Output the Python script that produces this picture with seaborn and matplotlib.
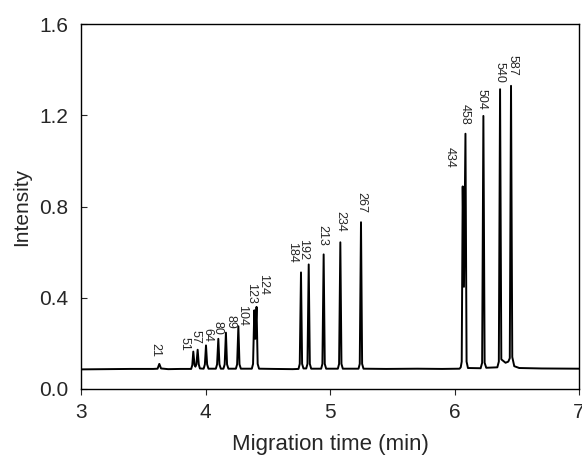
import matplotlib
matplotlib.use("Agg")
import matplotlib.pyplot as plt
import pandas as pd
import seaborn as sns

# electropherogram trace (min, intensity)
trace_time = [
    3.00, 3.20, 3.40, 3.58,
    3.615, 3.629, 3.643, 3.70, 3.80, 3.88,
    3.885, 3.894, 3.902, 3.912, 3.919, 3.927, 3.937, 3.946, 3.955,
    3.985, 3.995, 4.004, 4.013, 4.024,
    4.083, 4.093, 4.103, 4.112, 4.123,
    4.144, 4.154, 4.164, 4.173, 4.184,
    4.244, 4.254, 4.264, 4.273, 4.284,
    4.372, 4.382, 4.392, 4.400, 4.410, 4.419, 4.430,
    4.550, 4.700,
    4.747, 4.757, 4.767, 4.776, 4.787, 4.798,
    4.809, 4.819, 4.829, 4.838, 4.849,
    4.929, 4.939, 4.949, 4.958, 4.969,
    5.063, 5.073, 5.083, 5.092, 5.103,
    5.229, 5.239, 5.249, 5.258, 5.269,
    5.450, 5.700, 5.900, 6.040,
    6.050, 6.058, 6.066, 6.076, 6.088, 6.097, 6.108,
    6.210, 6.222, 6.232, 6.242, 6.255,
    6.344, 6.356, 6.366, 6.376, 6.410,
    6.432, 6.444, 6.454, 6.464, 6.480, 6.520, 6.700, 7.000,
]
trace_intensity = [
    0.086, 0.087, 0.088, 0.088,
    0.089, 0.110, 0.090, 0.087, 0.088, 0.088,
    0.088, 0.105, 0.164, 0.105, 0.098, 0.108, 0.172, 0.108, 0.090,
    0.089, 0.108, 0.191, 0.108, 0.089,
    0.089, 0.108, 0.220, 0.108, 0.089,
    0.089, 0.108, 0.247, 0.108, 0.089,
    0.089, 0.108, 0.275, 0.108, 0.089,
    0.089, 0.110, 0.345, 0.220, 0.360, 0.110, 0.089,
    0.088, 0.087,
    0.088, 0.110, 0.511, 0.110, 0.090, 0.090,
    0.090, 0.110, 0.546, 0.110, 0.089,
    0.089, 0.110, 0.590, 0.110, 0.089,
    0.089, 0.110, 0.643, 0.110, 0.089,
    0.089, 0.110, 0.731, 0.110, 0.089,
    0.088, 0.089, 0.088, 0.089,
    0.095, 0.120, 0.888, 0.448, 1.119, 0.120, 0.092,
    0.091, 0.115, 1.197, 0.115, 0.093,
    0.095, 0.120, 1.314, 0.130, 0.115,
    0.120, 0.135, 1.329, 0.140, 0.100, 0.092, 0.090, 0.089,
]

# peak annotations (fragment size, bp)
peak_labels = ["21", "51", "57", "64", "80", "89", "104", "123", "124",
               "184", "192", "213", "234", "267",
               "434", "458", "504", "540", "587"]
label_x = [3.594, 3.830, 3.918, 4.016, 4.100, 4.197, 4.293, 4.365, 4.462,
           4.695, 4.783, 4.936, 5.080, 5.249,
           5.964, 6.084, 6.213, 6.365, 6.462]
label_y = [0.141, 0.167, 0.198, 0.207, 0.238, 0.264, 0.278, 0.374, 0.410,
           0.555, 0.564, 0.626, 0.687, 0.771,
           0.969, 1.159, 1.225, 1.344, 1.374]

df = pd.DataFrame({"time": trace_time, "intensity": trace_intensity})

sns.set_style("ticks")
plt.rcParams["font.family"] = ["Liberation Sans", "DejaVu Sans"]

fig = plt.figure(figsize=(5.82, 4.57), dpi=100)
ax = fig.add_axes([81 / 582, 1 - 389 / 457, 498 / 582, 365 / 457])

sns.lineplot(data=df, x="time", y="intensity", sort=False, estimator=None,
             color="black", linewidth=1.4, ax=ax)

for lab, lx, ly in zip(peak_labels, label_x, label_y):
    ax.text(lx, ly, lab, rotation=-90, ha="center", va="bottom", fontsize=9)

ax.set_xlim(3, 7)
ax.set_ylim(0, 1.6)
ax.set_xticks([3, 4, 5, 6, 7])
ax.set_yticks([0.0, 0.4, 0.8, 1.2, 1.6])
ax.set_yticklabels(["0.0", "0.4", "0.8", "1.2", "1.6"])
ax.tick_params(axis="x", direction="out", length=4, labelsize=15, pad=6)
ax.tick_params(axis="y", direction="in", length=4, labelsize=15, pad=9)
for s in ax.spines.values():
    s.set_visible(True)
    s.set_color("black")
    s.set_linewidth(1.0)
ax.set_xlabel("Migration time (min)", fontsize=16, labelpad=9)
ax.set_ylabel("Intensity", fontsize=15, labelpad=6)

fig.savefig("out.png", dpi=100)
